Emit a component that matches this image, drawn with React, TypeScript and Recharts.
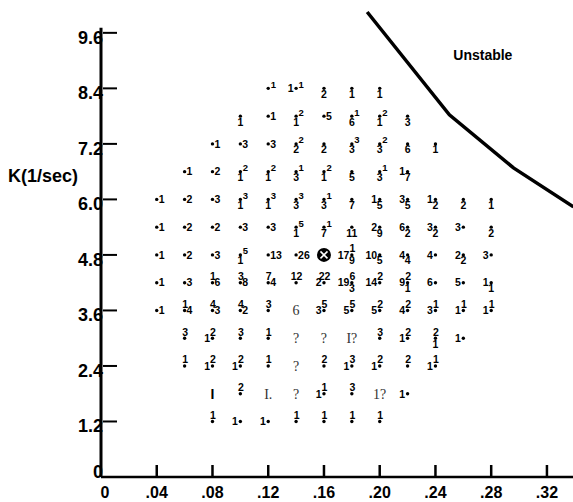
import { ScatterChart, Scatter, XAxis, YAxis, ReferenceLine, ReferenceDot } from "recharts";

// grid rows of the stability map (K in 1/sec), first column (x) of each row
const kRows = [8.4, 7.8, 7.2, 6.6, 6.0, 5.4, 4.8, 4.2, 3.6, 3.0, 2.4, 1.8, 1.2];
const rowStart = [0.12, 0.1, 0.08, 0.06, 0.04, 0.04, 0.04, 0.04, 0.04, 0.06, 0.06, 0.08, 0.08];
const colStep = 0.02;

// marks around each grid dot: L=left, R=right, T=top, B=below, S=superscript,
// X=circled point, ~raw serif text, ^raw bold text
const rowMarks = [
  ["S1", "L1 S1", "B2", "B1", "B1"],
  ["B1", "R1", "B1 S2", "R5", "B6 S1", "B1 S2", "B3"],
  ["R1", "R3", "R3", "B2 S2", "B2", "B3 S3", "B3 S2", "B6", "B1"],
  ["R1", "R2", "B1 S2", "B1 S2", "B3 S1", "B1 S2", "B5", "B3 S1", "L1 B7"],
  ["R1", "R2", "R3", "B1 S3", "B1 S3", "B3 S3", "B3 S1", "B7", "L1 B5", "L3 B5", "L1 B2", "B2", "B1"],
  ["R1", "R2", "R2", "R3", "R3", "B1 S5", "B7 S1", "B11", "L2 B9", "L6 B2", "L3 B2", "L3", "B2"],
  ["R1", "R2", "R3", "B1 S5", "R13", "R26", "X", "L17 T1 B9", "L10 B5", "L4 B4", "L4", "L2 B2", "L3"],
  ["R1", "R3", "T1 R6", "T3 R8", "T7 R4", "T12", "L2 T22", "L19 T6 B3", "L14 T2", "L9 T2 B1", "L6", "L5", "L1 B1"],
  ["R1", "T1 R4", "T4 R3", "T4 R2", "T3", "~6", "L3 T5", "L5 T5", "L5 T2", "L4 T2", "L3 T1", "L1 T1", "L1 T1"],
  ["T3", "L1 T2", "T3", "T1", "~?", "~?", "~I?", "T3", "L1 T2", "T2 B1", "L1"],
  ["T1", "L1 T2", "L1 T2", "T1", "~?", "T2", "L1 T3", "L1 T2", "T2", "L1 T1"],
  ["^I", "T2", "~I.", "~?", "L1 T1", "T3", "~1?", "L1"],
  ["T1", "L1", "L1", "T1", "T1", "T1", "T1"],
];

// stability boundary
const curveX = [0.191, 0.25, 0.296, 0.339];
const curveK = [10.05, 7.83, 6.68, 5.84];

const xTicks = [0, 0.04, 0.08, 0.12, 0.16, 0.2, 0.24, 0.28, 0.32];
const yTicks = [0, 1.2, 2.4, 3.6, 4.8, 6.0, 7.2, 8.4, 9.6];

const X_MAX = 0.3387;
const Y_MAX = 10.31;

const markData = kRows.flatMap((k, r) =>
  rowMarks[r].map((mark, i) => ({ x: +(rowStart[r] + i * colStep).toFixed(2), k, mark }))
);
const curveData = curveX.map((x, i) => ({ x, k: curveK[i] }));

const SANS = "'Liberation Sans', Arial, Helvetica, sans-serif";
const SERIF = "'Liberation Serif', 'Times New Roman', serif";

function Mark(props: any) {
  const { cx, cy, payload } = props;
  const tokens: string[] = payload.mark.split(" ");
  const txt = { fontFamily: SANS, fontWeight: 700, fontSize: 10.5, fill: "#000" } as const;

  if (tokens[0] === "X") {
    return (
      <g>
        <circle cx={cx} cy={cy} r={7} fill="#000" />
        <line x1={cx - 3.5} y1={cy - 3.5} x2={cx + 3.5} y2={cy + 3.5} stroke="#fff" strokeWidth={1.6} />
        <line x1={cx + 3.5} y1={cy - 3.5} x2={cx - 3.5} y2={cy + 3.5} stroke="#fff" strokeWidth={1.6} />
      </g>
    );
  }
  if (tokens[0].startsWith("~")) {
    return (
      <text x={cx} y={cy + 5} textAnchor="middle" fontFamily={SERIF} fontSize={14} fill="#333">
        {tokens[0].slice(1)}
      </text>
    );
  }
  if (tokens[0].startsWith("^")) {
    return (
      <text x={cx} y={cy + 5} textAnchor="middle" fontFamily={SANS} fontWeight={900} fontSize={14} fill="#000">
        {tokens[0].slice(1)}
      </text>
    );
  }

  return (
    <g>
      <circle cx={cx} cy={cy} r={1.7} fill="#000" />
      {tokens.map((t, i) => {
        const pos = t[0];
        const v = t.slice(1);
        if (pos === "R") return <text key={i} x={cx + 2} y={cy + 3.8} {...txt}>{v}</text>;
        if (pos === "L") return <text key={i} x={cx - 2.5} y={cy + 3.8} textAnchor="end" {...txt}>{v}</text>;
        if (pos === "T") return <text key={i} x={cx + 0.5} y={cy - 2.5} textAnchor="middle" {...txt}>{v}</text>;
        if (pos === "B") return <text key={i} x={cx} y={cy + 9.5} textAnchor="middle" {...txt}>{v}</text>;
        return <text key={i} x={cx + 2.5} y={cy - 0.5} {...txt} fontSize={9.5}>{v}</text>;
      })}
    </g>
  );
}

function YTick(props: any) {
  const { x, y, payload } = props;
  const v = payload.value;
  return (
    <g>
      {v !== 0 && <line x1={x + 2} y1={y} x2={x + 16} y2={y} stroke="#000" strokeWidth={2} />}
      <text x={x + 2} y={v === 0 ? y + 1 : y + 11} textAnchor="end" fontFamily={SANS} fontWeight={700} fontSize={18} fill="#000">
        {v === 0 ? "0" : v.toFixed(1)}
      </text>
    </g>
  );
}

function XTick(props: any) {
  const { x, y, payload } = props;
  const v = payload.value;
  return (
    <g>
      {v !== 0 && <line x1={x} y1={y} x2={x} y2={y - 12} stroke="#000" strokeWidth={2.5} />}
      <text x={v === 0 ? x + 4 : x} y={y + 21} textAnchor="middle" fontFamily={SANS} fontWeight={700} fontSize={16} fill="#000">
        {v === 0 ? "0" : v.toFixed(2).replace(/^0/, "")}
      </text>
    </g>
  );
}

function KLabel(props: any) {
  const vb = props.viewBox;
  const y = vb.y + vb.height * (1 - 6.5 / Y_MAX) + 6;
  return (
    <text x={vb.x + 8} y={y} fontFamily={SANS} fontWeight={700} fontSize={18} fill="#000">
      K(1/sec)
    </text>
  );
}

export default function App() {
  return (
    <div style={{ position: "absolute", left: 0, top: 0, background: "#fff" }}>
      <ScatterChart width={573} height={502} margin={{ top: 0, right: 0, bottom: 0, left: 0 }}>
        <XAxis
          type="number"
          dataKey="x"
          domain={[0, X_MAX]}
          allowDataOverflow
          ticks={xTicks}
          interval={0}
          height={25}
          tickSize={0}
          tickMargin={0}
          tick={<XTick />}
          axisLine={{ stroke: "#000", strokeWidth: 2.5 }}
        />
        <YAxis
          type="number"
          dataKey="k"
          domain={[0, Y_MAX]}
          allowDataOverflow
          ticks={yTicks}
          interval={0}
          width={101}
          tickSize={0}
          tickMargin={0}
          tick={<YTick />}
          axisLine={false}
          label={<KLabel />}
        />
        <ReferenceLine segment={[{ x: 0, y: 0 }, { x: 0, y: 9.71 }]} stroke="#000" strokeWidth={3} />
        <Scatter data={markData} shape={<Mark />} isAnimationActive={false} />
        <Scatter
          data={curveData}
          line={{ stroke: "#000", strokeWidth: 3.5 }}
          shape={() => <g />}
          isAnimationActive={false}
        />
        <ReferenceDot
          x={0.274}
          y={9.12}
          r={0}
          shape={(p: any) => (
            <text x={p.cx} y={p.cy + 5} textAnchor="middle" fontFamily={SANS} fontWeight={700} fontSize={14} fill="#000">
              Unstable
            </text>
          )}
        />
      </ScatterChart>
    </div>
  );
}
